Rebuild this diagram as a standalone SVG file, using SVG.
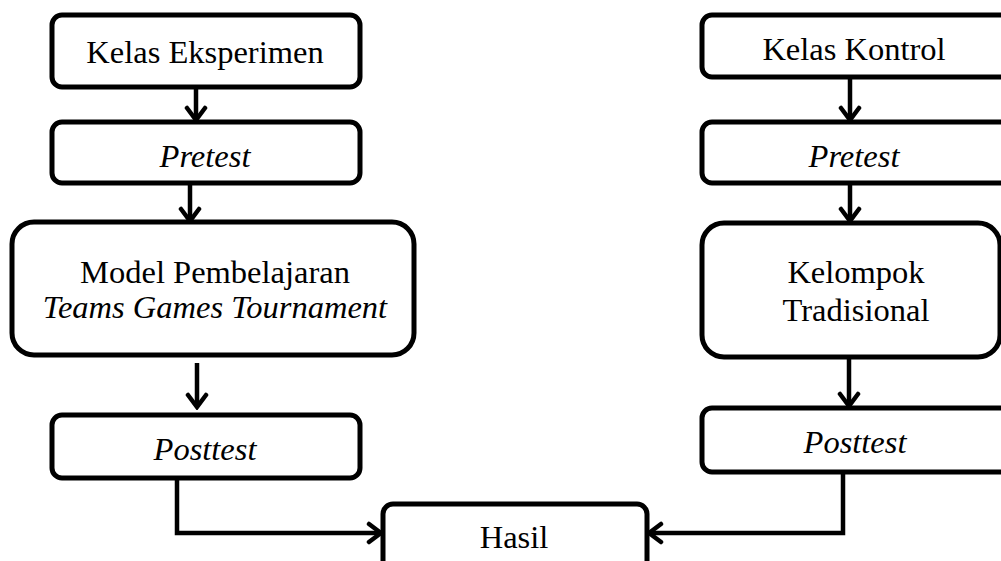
<svg xmlns="http://www.w3.org/2000/svg" width="1001" height="561" viewBox="0 0 1001 561">
<defs>
<style>
.box{fill:#fff;stroke:#000;stroke-width:5}
.t{font-family:"Liberation Serif","Times New Roman",serif;font-size:32.5px;fill:#000;text-anchor:middle}
.i{font-style:italic}
.c{fill:none;stroke:#000;stroke-width:4.5}
</style>
<marker id="ah" markerUnits="userSpaceOnUse" viewBox="0 0 18 24" refX="15" refY="12" markerWidth="18" markerHeight="24" orient="auto">
<path d="M3,3 L15,12 L3,21" fill="none" stroke="#000" stroke-width="4.5" stroke-linecap="round" stroke-linejoin="miter"/>
</marker>
</defs>
<rect width="1001" height="561" fill="#fff"/>
<g id="connectors">
<path class="c" d="M196,87 V120" marker-end="url(#ah)"/>
<path class="c" d="M190,183 V221" marker-end="url(#ah)"/>
<path class="c" d="M197,363 V407" marker-end="url(#ah)"/>
<path class="c" d="M850,77 V120" marker-end="url(#ah)"/>
<path class="c" d="M850,183 V221" marker-end="url(#ah)"/>
<path class="c" d="M849,359 V406" marker-end="url(#ah)"/>
<path class="c" d="M177,478 V533 H381" marker-end="url(#ah)"/>
<path class="c" d="M843,472 V533 H649" marker-end="url(#ah)"/>
</g>
<g id="kelas-eksperimen"><rect class="box" x="52" y="15" width="308" height="72" rx="10"/><text class="t" x="205" y="63">Kelas Eksperimen</text></g>
<g id="pretest-left"><rect class="box" x="52" y="122" width="308" height="61" rx="10"/><text class="t i" x="205" y="167">Pretest</text></g>
<g id="model-tgt"><rect class="box" x="12" y="222" width="402" height="133" rx="22"/><text class="t" x="215" y="283">Model Pembelajaran</text><text class="t i" x="215" y="318">Teams Games Tournament</text></g>
<g id="posttest-left"><rect class="box" x="52" y="415" width="308" height="63" rx="10"/><text class="t i" x="205" y="460">Posttest</text></g>
<g id="kelas-kontrol"><rect class="box" x="702" y="15" width="310" height="62" rx="10"/><text class="t" x="854" y="60">Kelas Kontrol</text></g>
<g id="pretest-right"><rect class="box" x="702" y="122" width="310" height="61" rx="10"/><text class="t i" x="854" y="167">Pretest</text></g>
<g id="kelompok-tradisional"><rect class="box" x="702" y="223" width="298" height="134" rx="22"/><text class="t" x="856" y="283">Kelompok</text><text class="t" x="856" y="321">Tradisional</text></g>
<g id="posttest-right"><rect class="box" x="702" y="408" width="310" height="64" rx="10"/><text class="t i" x="855" y="453">Posttest</text></g>
<g id="hasil"><rect class="box" x="383" y="504" width="264" height="70" rx="10"/><text class="t" x="514" y="548">Hasil</text></g>
</svg>
